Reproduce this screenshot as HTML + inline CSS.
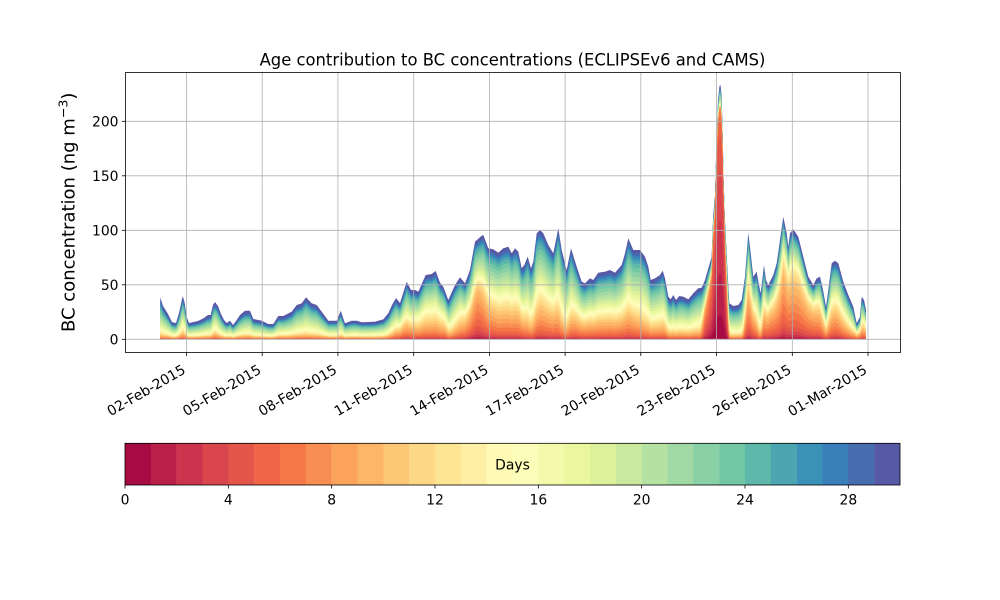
<!DOCTYPE html>
<html><head><meta charset="utf-8">
<style>
html,body{margin:0;padding:0;background:#fff;}
svg{display:block;font-family:"DejaVu Sans","Liberation Sans",sans-serif;}
</style></head><body>
<svg id="c" width="1000" height="600" viewBox="0 0 1000 600" xmlns="http://www.w3.org/2000/svg">
<defs>
<linearGradient id="fg" gradientUnits="userSpaceOnUse" x1="0" y1="220" x2="0" y2="339">
<stop offset="0" stop-color="#3b92b9"/><stop offset="0.45" stop-color="#c9e99e"/><stop offset="0.75" stop-color="#fee594"/><stop offset="1" stop-color="#f67848"/>
</linearGradient>
</defs>
<rect width="1000" height="600" fill="#fff"/>
<path id="fb" fill="url(#fg)" d="M160.3,339.3 L160.3,297.3 163,306 165,309 168,314 172,322 176,323 179,313 182.7,296 184.5,302 186.7,317 189,323 198,321 204,318 208,315 210.7,315 213,305 215,302 218,306 221,314 224,320 226.7,323 230,320.7 233,325 236.7,320 240,315 245,310.7 250,310.7 253.3,319 258.3,320 261.7,320.7 268.3,324 273.3,324 278.3,316 283.3,316 291.7,311.7 296.7,305 301.7,303.3 306,297.3 311.7,303.3 316.7,305 321.7,311.7 328.3,320.7 336.7,320.7 340.7,310.7 345,323.3 351.7,320.7 356.7,320.7 361.7,322.3 375,321.7 383.3,319.3 388.3,313.3 392,305 396,298 400,303 406.7,281.7 411,290 415,290 418.3,291.7 425.7,275 431.7,274 435.7,271 440,282.7 443.3,286.7 448.3,300 455,285 460,277.3 465,283.3 470,270 475,241.7 481.7,235.7 483.3,235 488.3,248.3 493.3,249.3 498.3,252.7 503.3,248.3 508.3,246.7 511.7,253.3 515,248.3 518.3,251.7 521.7,268.3 524.3,265 527.7,256.7 531,268.3 533.3,261.7 536.7,233.3 540,230 543.3,233.3 548.3,245 553.3,253.3 558.3,228.3 561.7,250 566.7,270 571,248.3 576.7,266.7 581.7,281.7 585,283.3 590,278.3 593.3,280 598.3,272.7 605,271.7 610,270 615,272.7 621.7,265 625,253.3 628.3,238.3 633.3,250 640,250 645,256.7 648.3,266.7 650.7,280 655,278.3 660,275 662.7,270.7 665,278.3 668.3,296.7 670.7,299.3 673.3,295 676,300 679.3,296 683.3,296.7 688.3,299.3 693.3,293.3 698.3,288.3 701.7,287.7 705,280 708.3,268.3 711.7,256.7 712.2,240 713.2,215 715,195 716.5,140 718,100 719.5,86 720.5,85 721.5,95 722.5,125 723.5,175 725,220 727.3,266.7 729.3,303.3 733.3,306 738.3,305 741.7,300 745,276.7 748.3,232.7 750.7,253.3 753.3,276.7 756.7,271.7 758.3,281.7 760.7,293.3 764,265 766,280 768.3,285 773.3,275 776.7,263.3 780,240 783.3,216.7 786.7,233.3 788.3,246.7 790,233.3 793.3,229.3 798.3,236.7 803.3,256.7 808.3,276.7 813.3,285 816.7,278.3 820,276.7 822.7,288.3 826,306.7 828.3,290 831.7,263.3 835,260.7 838.3,263.3 843.3,281.7 848.3,295 853.3,306.7 856.7,323.3 860,316.7 861.7,296.7 864,300 866,310 L866,339.3 Z"/>
<g id="layers"></g>

<!-- grid -->
<g stroke="#b0b0b0" stroke-width="0.8" fill="none">
<line x1="186.5" y1="72.5" x2="186.5" y2="352.5"/>
<line x1="262.2" y1="72.5" x2="262.2" y2="352.5"/>
<line x1="337.9" y1="72.5" x2="337.9" y2="352.5"/>
<line x1="413.7" y1="72.5" x2="413.7" y2="352.5"/>
<line x1="489.4" y1="72.5" x2="489.4" y2="352.5"/>
<line x1="565.1" y1="72.5" x2="565.1" y2="352.5"/>
<line x1="640.8" y1="72.5" x2="640.8" y2="352.5"/>
<line x1="716.5" y1="72.5" x2="716.5" y2="352.5"/>
<line x1="792.3" y1="72.5" x2="792.3" y2="352.5"/>
<line x1="868.0" y1="72.5" x2="868.0" y2="352.5"/>
<line x1="125.5" y1="339.3" x2="900.5" y2="339.3"/>
<line x1="125.5" y1="284.8" x2="900.5" y2="284.8"/>
<line x1="125.5" y1="230.3" x2="900.5" y2="230.3"/>
<line x1="125.5" y1="175.8" x2="900.5" y2="175.8"/>
<line x1="125.5" y1="121.3" x2="900.5" y2="121.3"/>
</g>

<!-- axes frame -->
<rect x="125.5" y="72.5" width="775" height="280" fill="none" stroke="#000" stroke-width="0.8"/>

<!-- ticks -->
<g stroke="#000" stroke-width="0.8">
<line x1="186.5" y1="352.5" x2="186.5" y2="356"/>
<line x1="262.2" y1="352.5" x2="262.2" y2="356"/>
<line x1="337.9" y1="352.5" x2="337.9" y2="356"/>
<line x1="413.7" y1="352.5" x2="413.7" y2="356"/>
<line x1="489.4" y1="352.5" x2="489.4" y2="356"/>
<line x1="565.1" y1="352.5" x2="565.1" y2="356"/>
<line x1="640.8" y1="352.5" x2="640.8" y2="356"/>
<line x1="716.5" y1="352.5" x2="716.5" y2="356"/>
<line x1="792.3" y1="352.5" x2="792.3" y2="356"/>
<line x1="868.0" y1="352.5" x2="868.0" y2="356"/>
<line x1="122" y1="339.3" x2="125.5" y2="339.3"/>
<line x1="122" y1="284.8" x2="125.5" y2="284.8"/>
<line x1="122" y1="230.3" x2="125.5" y2="230.3"/>
<line x1="122" y1="175.8" x2="125.5" y2="175.8"/>
<line x1="122" y1="121.3" x2="125.5" y2="121.3"/>
</g>

<!-- y tick labels -->
<g font-size="13.9" text-anchor="end" fill="#000">
<text x="118.5" y="344.4">0</text>
<text x="118.5" y="289.9">50</text>
<text x="118.5" y="235.4">100</text>
<text x="118.5" y="180.9">150</text>
<text x="118.5" y="126.4">200</text>
</g>

<!-- x tick labels -->
<g font-size="13.9" text-anchor="end" fill="#000">
<text transform="translate(186.5,372.5) rotate(-30)">02-Feb-2015</text>
<text transform="translate(262.2,372.5) rotate(-30)">05-Feb-2015</text>
<text transform="translate(337.9,372.5) rotate(-30)">08-Feb-2015</text>
<text transform="translate(413.7,372.5) rotate(-30)">11-Feb-2015</text>
<text transform="translate(489.4,372.5) rotate(-30)">14-Feb-2015</text>
<text transform="translate(565.1,372.5) rotate(-30)">17-Feb-2015</text>
<text transform="translate(640.8,372.5) rotate(-30)">20-Feb-2015</text>
<text transform="translate(716.5,372.5) rotate(-30)">23-Feb-2015</text>
<text transform="translate(792.3,372.5) rotate(-30)">26-Feb-2015</text>
<text transform="translate(868.0,372.5) rotate(-30)">01-Mar-2015</text>
</g>

<!-- title -->
<text x="512.5" y="65.5" font-size="16.4" text-anchor="middle" fill="#000">Age contribution to BC concentrations (ECLIPSEv6 and CAMS)</text>

<!-- y label -->
<text transform="translate(74.5,212.3) rotate(-90)" font-size="18" text-anchor="middle" fill="#000">BC concentration (ng m<tspan dy="-7" font-size="12.6">−3</tspan><tspan dy="7">)</tspan></text>

<!-- colorbar -->
<g>
<rect x="125" y="443.3" width="26" height="41.7" fill="#a70b44"/>
<rect x="150.83" y="443.3" width="26" height="41.7" fill="#b91f48"/>
<rect x="176.67" y="443.3" width="26" height="41.7" fill="#cc344d"/>
<rect x="202.5" y="443.3" width="26" height="41.7" fill="#da464d"/>
<rect x="228.33" y="443.3" width="26" height="41.7" fill="#e45649"/>
<rect x="254.17" y="443.3" width="26" height="41.7" fill="#ef6545"/>
<rect x="280" y="443.3" width="26" height="41.7" fill="#f67848"/>
<rect x="305.83" y="443.3" width="26" height="41.7" fill="#f98e52"/>
<rect x="331.67" y="443.3" width="26" height="41.7" fill="#fca35c"/>
<rect x="357.5" y="443.3" width="26" height="41.7" fill="#fdb668"/>
<rect x="383.33" y="443.3" width="26" height="41.7" fill="#fec776"/>
<rect x="409.17" y="443.3" width="26" height="41.7" fill="#fed884"/>
<rect x="435" y="443.3" width="26" height="41.7" fill="#fee594"/>
<rect x="460.83" y="443.3" width="26" height="41.7" fill="#feefa5"/>
<rect x="486.67" y="443.3" width="26" height="41.7" fill="#fffab6"/>
<rect x="512.5" y="443.3" width="26" height="41.7" fill="#fbfdb9"/>
<rect x="538.33" y="443.3" width="26" height="41.7" fill="#f3faac"/>
<rect x="564.17" y="443.3" width="26" height="41.7" fill="#eaf79f"/>
<rect x="590" y="443.3" width="26" height="41.7" fill="#dcf19a"/>
<rect x="615.83" y="443.3" width="26" height="41.7" fill="#c9e99e"/>
<rect x="641.67" y="443.3" width="26" height="41.7" fill="#b5e1a2"/>
<rect x="667.5" y="443.3" width="26" height="41.7" fill="#a0d9a4"/>
<rect x="693.33" y="443.3" width="26" height="41.7" fill="#89d0a5"/>
<rect x="719.17" y="443.3" width="26" height="41.7" fill="#72c7a5"/>
<rect x="745" y="443.3" width="26" height="41.7" fill="#5db8a9"/>
<rect x="770.83" y="443.3" width="26" height="41.7" fill="#4ca5b1"/>
<rect x="796.67" y="443.3" width="26" height="41.7" fill="#3b92b9"/>
<rect x="822.5" y="443.3" width="26" height="41.7" fill="#397fb9"/>
<rect x="848.33" y="443.3" width="26" height="41.7" fill="#486cb0"/>
<rect x="874.17" y="443.3" width="25.83" height="41.7" fill="#5759a7"/>
</g>
<rect x="125" y="443.3" width="775" height="41.7" fill="none" stroke="#000" stroke-width="0.8"/>
<text x="512.5" y="469.3" font-size="13.9" text-anchor="middle" fill="#000">Days</text>
<g stroke="#000" stroke-width="0.8">
<line x1="125" y1="485" x2="125" y2="488.5"/>
<line x1="228.33" y1="485" x2="228.33" y2="488.5"/>
<line x1="331.67" y1="485" x2="331.67" y2="488.5"/>
<line x1="435" y1="485" x2="435" y2="488.5"/>
<line x1="538.33" y1="485" x2="538.33" y2="488.5"/>
<line x1="641.67" y1="485" x2="641.67" y2="488.5"/>
<line x1="745" y1="485" x2="745" y2="488.5"/>
<line x1="848.33" y1="485" x2="848.33" y2="488.5"/>
</g>
<g font-size="13.9" text-anchor="middle" fill="#000">
<text x="125" y="504.5">0</text>
<text x="228.33" y="504.5">4</text>
<text x="331.67" y="504.5">8</text>
<text x="435" y="504.5">12</text>
<text x="538.33" y="504.5">16</text>
<text x="641.67" y="504.5">20</text>
<text x="745" y="504.5">24</text>
<text x="848.33" y="504.5">28</text>
</g>
</svg>
<script>
(function(){
var NS="http://www.w3.org/2000/svg";
var fb=document.getElementById('fb');
var nums=fb.getAttribute('d').match(/-?\d+(\.\d+)?/g).map(Number);
var pts=[];for(var i=0;i+1<nums.length;i+=2)pts.push([nums[i],nums[i+1]]);
var P=pts.slice(1,pts.length-1);
/* [x, young fraction, young mean age] */
var M=[[160,0.22,12],[178,0.22,12],[183,0.35,12],[188,0.22,12],[210,0.22,12],[215,0.35,12],[220,0.22,12],[385,0.22,12],[394,0.3,10],[403,0.4,9],[410,0.38,9],[420,0.45,10],[445,0.45,10],[450,0.3,11],[460,0.45,10],[470,0.5,8],[478,0.6,7],[488,0.5,8.5],[500,0.45,9],[520,0.45,9],[530,0.35,10],[540,0.45,9],[555,0.42,9],[565,0.3,10],[575,0.4,9],[585,0.4,9],[620,0.4,9],[632,0.38,9],[645,0.35,10],[665,0.35,10],[670,0.3,11],[700,0.3,11],[705,0.6,6],[709,0.75,5],[712,0.85,4],[716,0.93,2.8],[724,0.93,2.8],[727,0.7,5],[730,0.22,12],[742,0.22,12],[745,0.45,8.5],[748,0.6,8],[754,0.5,8.5],[760,0.3,11],[764,0.5,8.5],[770,0.6,8],[780,0.62,8],[783,0.7,7.5],[790,0.68,8],[812,0.68,8],[820,0.6,8.5],[826,0.45,9.5],[835,0.5,8.5],[845,0.45,9.5],[853,0.35,10],[860,0.42,9.5],[866,0.45,9.5]];
function itp(A,x,c){if(x<=A[0][0])return A[0][c];for(var i=1;i<A.length;i++){if(x<=A[i][0]){var a=A[i-1],b=A[i];var dx=b[0]-a[0];if(dx<=0)return b[c];return a[c]+(b[c]-a[c])*(x-a[0])/dx;}}return A[A.length-1][c];}
var C=["#a70b44","#b91f48","#cc344d","#da464d","#e45649","#ef6545","#f67848","#f98e52","#fca35c","#fdb668","#fec776","#fed884","#fee594","#feefa5","#fffab6","#fbfdb9","#f3faac","#eaf79f","#dcf19a","#c9e99e","#b5e1a2","#a0d9a4","#89d0a5","#72c7a5","#5db8a9","#4ca5b1","#3b92b9","#397fb9","#486cb0","#5759a7"];
var Y0=339.3,K=1.09,N=30;
var xs=[];for(var x=160.3;x<866;x+=0.5)xs.push(x);
P.forEach(function(p){xs.push(p[0]);});xs.push(866);
xs.sort(function(a,b){return a-b;});
var X=[];xs.forEach(function(v){if(!X.length||v-X[X.length-1]>0.05)X.push(v);});
var cum=[];for(var k=0;k<N;k++)cum.push([]);
var MO=21.5,SO=4.5;
X.forEach(function(xx){
  var T=(Y0-itp(P,xx,1))/K;if(T<0)T=0;
  var fy=itp(M,xx,1),my=itp(M,xx,2),sy=1+0.3*my;
  var wy=[],wo=[],sY=0,sO=0,kk;
  for(kk=0;kk<N;kk++){
    var a=kk+0.5;
    wy[kk]=Math.exp(-0.5*Math.pow((a-my)/sy,2));
    wo[kk]=Math.exp(-0.5*Math.pow((a-MO)/SO,2));
    sY+=wy[kk];sO+=wo[kk];
  }
  var top29=Math.min(2.4,0.1*T);
  var top28=Math.min(0.8,0.03*T);
  var base=Math.min(1.2,0.06*T);
  var rest=T-top29-top28-base;
  var b=0;
  for(kk=0;kk<N;kk++){
    var w=fy*wy[kk]/sY+(1-fy)*wo[kk]/sO;
    b+=rest*w;
    if(kk>=5&&kk<=9)b+=base/5;
    if(kk==28)b+=top28;
    if(kk==29)b+=top29;
    cum[kk].push(kk==N-1?T:b);
  }
});
var g=document.getElementById('layers');
for(var k2=N-1;k2>=0;k2--){
  var d="M"+X[0].toFixed(2)+","+Y0;
  for(var j=0;j<X.length;j++){d+=" L"+X[j].toFixed(2)+","+(Y0-cum[k2][j]*K).toFixed(2);}
  d+=" L"+X[X.length-1].toFixed(2)+","+Y0+" Z";
  var p=document.createElementNS(NS,"path");
  p.setAttribute("d",d);p.setAttribute("fill",C[k2]);
  g.appendChild(p);
}
fb.setAttribute("fill","none");
})();
</script>
</body></html>
